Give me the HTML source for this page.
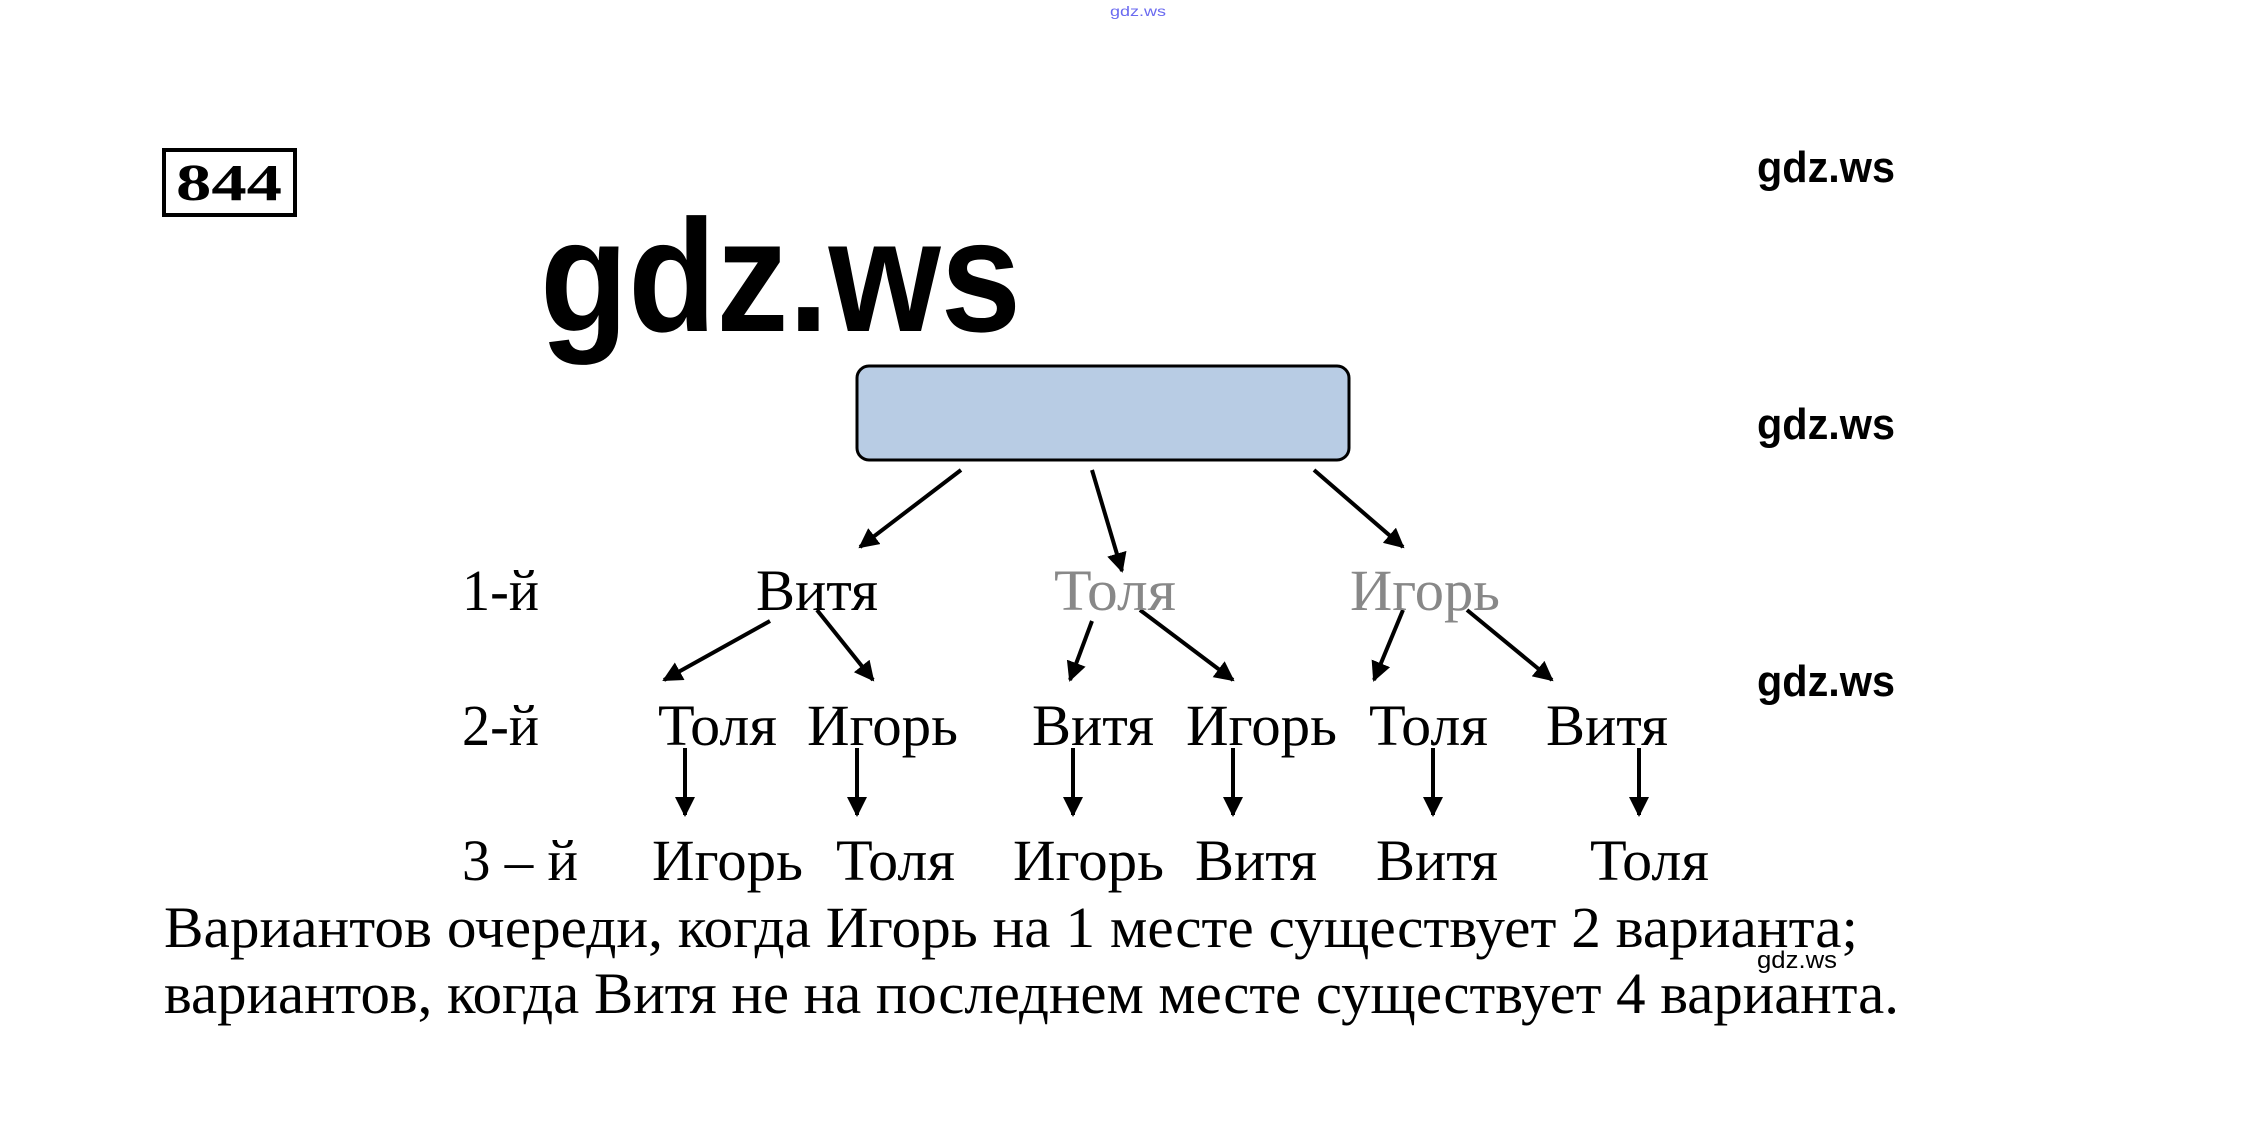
<!DOCTYPE html>
<html><head><meta charset="utf-8"><style>html,body{margin:0;padding:0;background:#fff;width:2265px;height:1125px;overflow:hidden}</style></head>
<body>
<svg width="2265" height="1125" viewBox="0 0 2265 1125" xmlns="http://www.w3.org/2000/svg">
<defs><marker id="a" viewBox="0 0 10 10" refX="9" refY="5" markerWidth="5" markerHeight="5" orient="auto"><path d="M0,0 L10,5 L0,10 z" fill="#000"/></marker></defs>
<g font-family="Liberation Sans, sans-serif" lengthAdjust="spacingAndGlyphs">
<text x="1110" y="16" font-size="14" fill="#6a6af0" textLength="56" lengthAdjust="spacingAndGlyphs">gdz.ws</text>
<text x="1757" y="182" font-size="44" font-weight="bold" textLength="138" lengthAdjust="spacingAndGlyphs">gdz.ws</text>
<text x="1757" y="439" font-size="44" font-weight="bold" textLength="138" lengthAdjust="spacingAndGlyphs">gdz.ws</text>
<text x="1757" y="696" font-size="44" font-weight="bold" textLength="138" lengthAdjust="spacingAndGlyphs">gdz.ws</text>
<text x="1757" y="968" font-size="24" textLength="80" lengthAdjust="spacingAndGlyphs">gdz.ws</text>
<text x="540" y="331" font-size="160" font-weight="bold" textLength="481" lengthAdjust="spacingAndGlyphs">gdz.ws</text>
</g>
<rect x="164" y="150" width="131" height="65" fill="none" stroke="#000" stroke-width="4"/>
<text x="176" y="200" font-family="Liberation Serif, serif" font-weight="bold" font-size="52" textLength="106" lengthAdjust="spacingAndGlyphs">844</text>
<rect x="857" y="366" width="492" height="94" rx="12" fill="#b8cce4" stroke="#000" stroke-width="3"/>
<g stroke="#000" stroke-width="4" marker-end="url(#a)">
<line x1="961" y1="470" x2="860" y2="547"/>
<line x1="1092" y1="470" x2="1122" y2="571"/>
<line x1="1314" y1="470" x2="1403" y2="547"/>
<line x1="770" y1="621" x2="664" y2="680"/>
<line x1="817" y1="610" x2="873" y2="680"/>
<line x1="1092" y1="621" x2="1070" y2="680"/>
<line x1="1140" y1="610" x2="1233" y2="680"/>
<line x1="1403" y1="610" x2="1374" y2="680"/>
<line x1="1467" y1="610" x2="1552" y2="680"/>
<line x1="685" y1="748" x2="685" y2="815"/>
<line x1="857" y1="748" x2="857" y2="815"/>
<line x1="1073" y1="748" x2="1073" y2="815"/>
<line x1="1233" y1="748" x2="1233" y2="815"/>
<line x1="1433" y1="748" x2="1433" y2="815"/>
<line x1="1639" y1="748" x2="1639" y2="815"/>
</g>
<g font-family="Liberation Serif, serif" font-size="58" fill="#000">
<text x="462" y="610" textLength="77" lengthAdjust="spacingAndGlyphs">1-й</text>
<text x="756" y="610" textLength="122" lengthAdjust="spacingAndGlyphs">Витя</text>
<text x="1054" y="610" textLength="122" lengthAdjust="spacingAndGlyphs" fill="#888">Толя</text>
<text x="1350" y="610" textLength="150" lengthAdjust="spacingAndGlyphs" fill="#888">Игорь</text>
<text x="462" y="745" textLength="77" lengthAdjust="spacingAndGlyphs">2-й</text>
<text x="658" y="745" textLength="119" lengthAdjust="spacingAndGlyphs">Толя</text>
<text x="807" y="745" textLength="151" lengthAdjust="spacingAndGlyphs">Игорь</text>
<text x="1032" y="745" textLength="122" lengthAdjust="spacingAndGlyphs">Витя</text>
<text x="1186" y="745" textLength="151" lengthAdjust="spacingAndGlyphs">Игорь</text>
<text x="1369" y="745" textLength="119" lengthAdjust="spacingAndGlyphs">Толя</text>
<text x="1546" y="745" textLength="122" lengthAdjust="spacingAndGlyphs">Витя</text>
<text x="462" y="880" textLength="116" lengthAdjust="spacingAndGlyphs">3 – й</text>
<text x="652" y="880" textLength="151" lengthAdjust="spacingAndGlyphs">Игорь</text>
<text x="836" y="880" textLength="119" lengthAdjust="spacingAndGlyphs">Толя</text>
<text x="1013" y="880" textLength="151" lengthAdjust="spacingAndGlyphs">Игорь</text>
<text x="1195" y="880" textLength="122" lengthAdjust="spacingAndGlyphs">Витя</text>
<text x="1376" y="880" textLength="122" lengthAdjust="spacingAndGlyphs">Витя</text>
<text x="1590" y="880" textLength="119" lengthAdjust="spacingAndGlyphs">Толя</text>
<text x="164" y="947" textLength="1694" lengthAdjust="spacingAndGlyphs">Вариантов очереди, когда Игорь на 1 месте существует 2 варианта;</text>
<text x="164" y="1013" textLength="1735" lengthAdjust="spacingAndGlyphs">вариантов, когда Витя не на последнем месте существует 4 варианта.</text>
</g>
</svg>
</body></html>
